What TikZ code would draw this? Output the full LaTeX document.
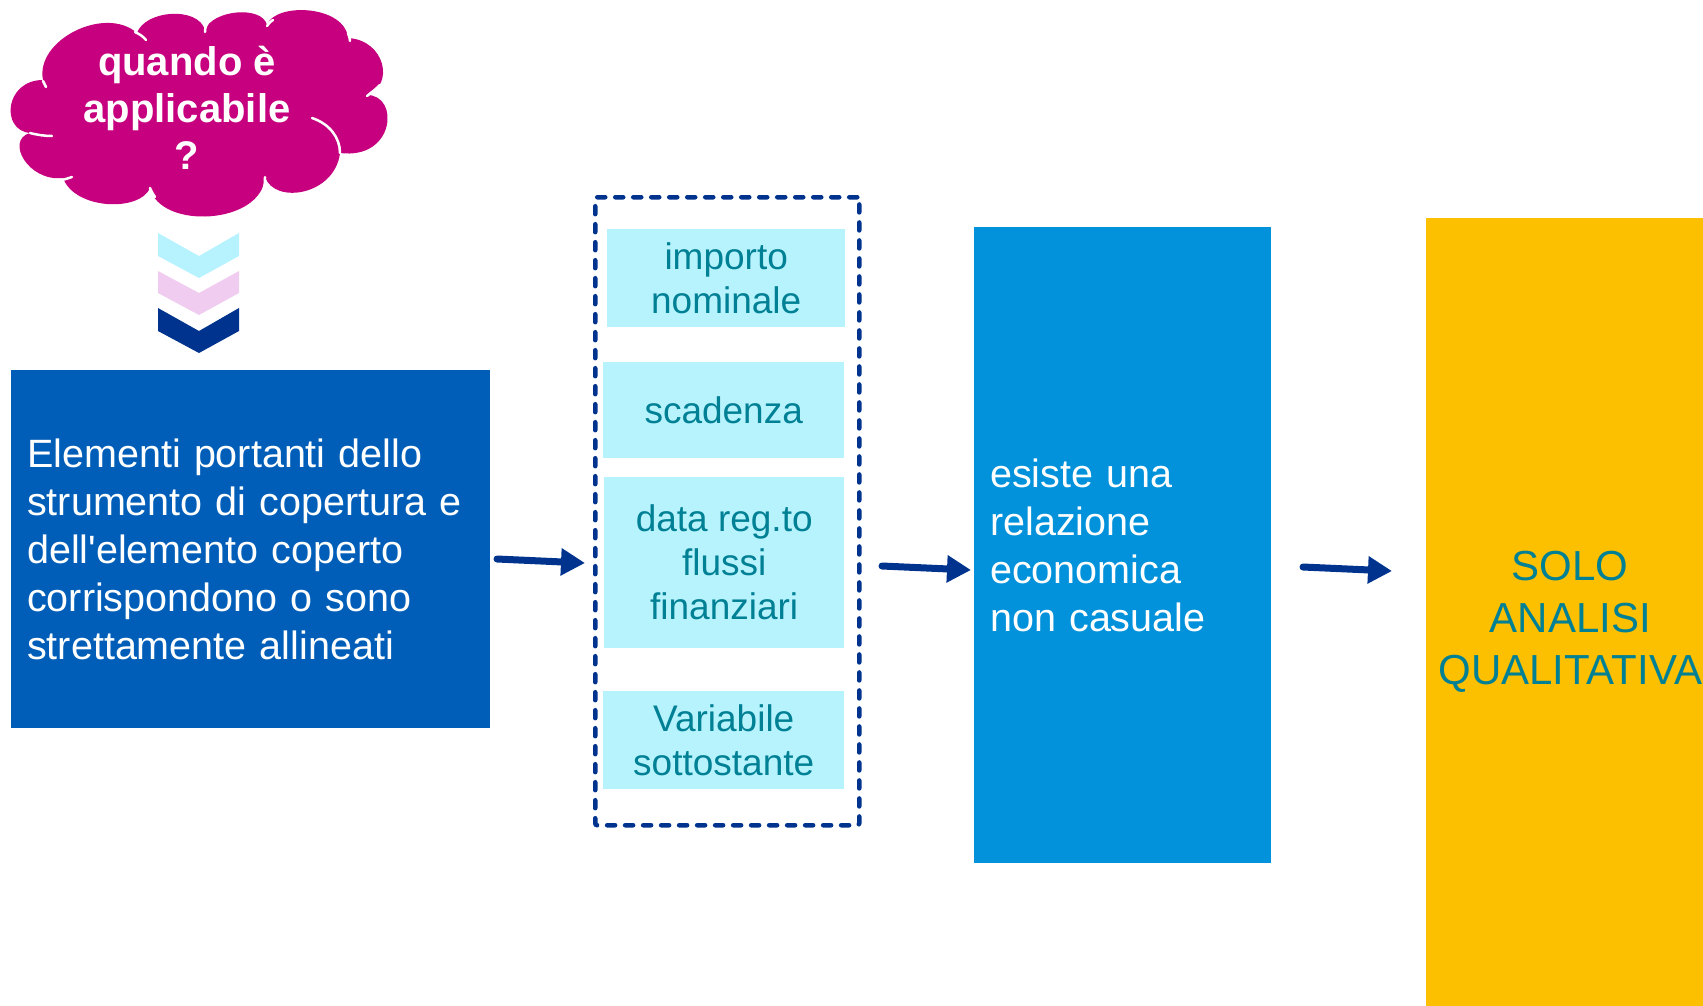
\documentclass[tikz,border=0pt]{standalone}
\usepackage{fontspec}
\newfontfamily\arial{Liberation Sans}
\usetikzlibrary{arrows.meta}
\definecolor{cloudc}{RGB}{198,0,126}
\definecolor{chcyan}{RGB}{183,243,255}
\definecolor{chpink}{RGB}{240,204,240}
\definecolor{navy}{RGB}{0,51,141}
\definecolor{leftblue}{RGB}{0,94,184}
\definecolor{midblue}{RGB}{2,146,219}
\definecolor{lightcyan}{RGB}{183,243,253}
\definecolor{tealtext}{RGB}{0,128,148}
\definecolor{goldbox}{RGB}{253,192,0}
\begin{document}
\begin{tikzpicture}[x=1pt,y=-1pt,
  bigbox/.style={anchor=north west, inner sep=16pt, align=left, text=white,
     font=\arial\fontsize{39.5}{48}\selectfont},
  itembox/.style={anchor=north west, fill=lightcyan, inner sep=0pt, align=center,
     text=tealtext, font=\arial\fontsize{37}{44}\selectfont},
  arr/.style={draw=navy, line width=7pt, line cap=round, -{Triangle[length=24pt,width=26pt]}},
  wline/.style={draw=white, line width=2.5pt, line cap=round}]
\useasboundingbox (0,0) rectangle (1703,1005);

% cloud
\fill[cloudc] (43,80)
  .. controls (35,40) and (105,5) .. (137,33)
  .. controls (145,10) and (198,6) .. (205,30)
  .. controls (212,10) and (262,5) .. (267,25)
  .. controls (275,2) and (345,5) .. (348,38)
  .. controls (385,40) and (395,85) .. (367,95)
  .. controls (400,95) and (395,160) .. (340,153)
  .. controls (335,195) and (275,205) .. (265,177)
  .. controls (262,225) and (160,230) .. (150,188)
  .. controls (140,212) and (75,210) .. (63,178)
  .. controls (28,182) and (5,140) .. (30,133)
  .. controls (0,130) and (5,80) .. (43,80) -- cycle;
\draw[wline] (312,118) .. controls (330,124) and (340,138) .. (340,153);
\draw[wline] (135,32) .. controls (139,34) and (143,36) .. (146,40);
\draw[wline] (205,32) .. controls (205,28) and (206,25) .. (208,22);
\draw[wline] (267,26) .. controls (268,24) and (270,22) .. (273,20);
\draw[wline] (348,33) .. controls (349,35) and (350,38) .. (350,41);
\draw[wline] (367,96) .. controls (372,92) and (376,89) .. (380,85);
\draw[wline] (265,177) .. controls (265,181) and (265,184) .. (264,188);
\draw[wline] (150,188) .. controls (151,191) and (153,194) .. (155,197);
\draw[wline] (62,180) .. controls (66,179) and (69,178) .. (72,177);
\draw[wline] (30,133) .. controls (38,135) and (45,136) .. (52,136);
\draw[wline] (43,81) .. controls (44,83) and (45,85) .. (46,87);
\node[font=\arial\bfseries\fontsize{40}{47}\selectfont, text=white, align=center] (q) at (187,108) {quando è\\applicabile\\?};

% chevrons
\fill[chcyan] (158,233) -- (199,256) -- (239,233) -- (239,256) -- (199,278) -- (158,256) -- cycle;
\fill[chpink] (158,271) -- (199,293) -- (239,271) -- (239,293) -- (199,315) -- (158,293) -- cycle;
\fill[navy] (158,308) -- (199,331) -- (239,308) -- (239,331) -- (199,353) -- (158,331) -- cycle;

% left box
\node[bigbox, fill=leftblue, minimum width=479pt, minimum height=358pt, text width=447pt] (left) at (11,370)
 {Elementi portanti dello\\strumento di copertura e\\dell'elemento coperto\\corrispondono o sono\\strettamente allineati};

% dashed group
\node[anchor=north west, draw=navy, line width=4.5pt, line cap=round, dash pattern=on 8pt off 10pt,
  rounded corners=2pt, minimum width=264pt, minimum height=628pt, inner sep=0pt] (grp) at (593,195) {};
\node[itembox, minimum width=238pt, minimum height=98pt] (imp) at (607,229) {importo\\nominale};
\node[itembox, minimum width=241pt, minimum height=96pt] (sca) at (603,362) {scadenza};
\node[itembox, minimum width=240pt, minimum height=171pt] (dat) at (604,477) {data reg.to\\flussi\\finanziari};
\node[itembox, minimum width=241pt, minimum height=98pt] (var) at (603,691) {Variabile\\sottostante};

% middle box
\node[bigbox, fill=midblue, minimum width=297pt, minimum height=636pt, text width=265pt] (mid) at (974,227)
 {esiste una\\relazione\\economica\\non casuale};

% yellow box
\node[anchor=north west, fill=goldbox, minimum width=288pt, minimum height=808pt, inner sep=0pt,
  align=center, text=tealtext, font=\arial\fontsize{42}{52}\selectfont] (sol) at (1426,218)
 {SOLO\\ANALISI\\QUALITATIVA};

% arrows
\coordinate (a1s) at (497,559); \coordinate (a1e) at (585,563);
\coordinate (a2s) at (882,566); \coordinate (a2e) at (971,570);
\coordinate (a3s) at (1303,567); \coordinate (a3e) at (1392,571);
\draw[arr] (a1s) -- (a1e);
\draw[arr] (a2s) -- (a2e);
\draw[arr] (a3s) -- (a3e);
\end{tikzpicture}
\end{document}
